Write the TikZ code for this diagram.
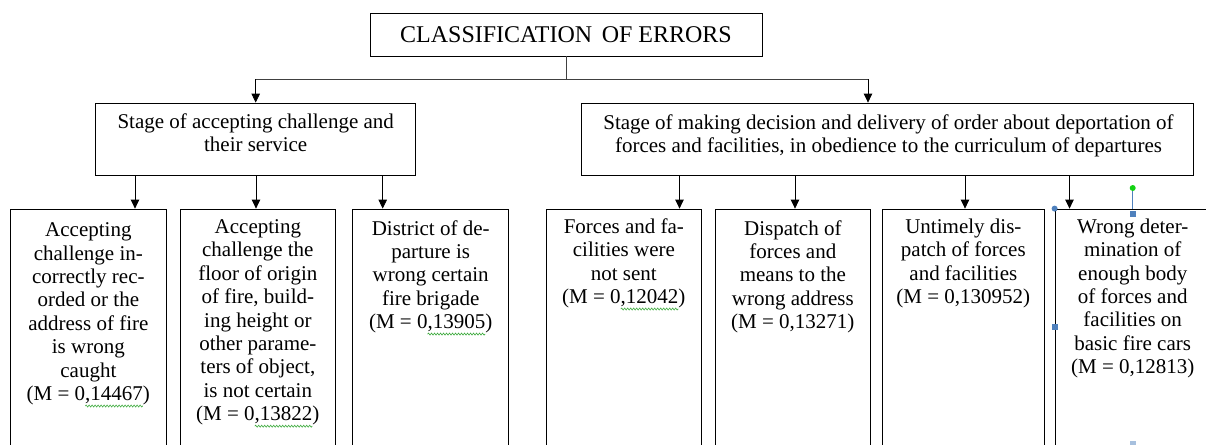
\documentclass[tikz,border=0pt]{standalone}
\usepackage{fontspec}
\setmainfont{Liberation Serif}
\usetikzlibrary{arrows.meta,decorations.pathmorphing}
\definecolor{wavecol}{RGB}{60,170,60}
\definecolor{hblue}{RGB}{79,129,189}
\definecolor{hgreen}{RGB}{20,210,20}
\newlength\wavlen
\newcommand\wav[1]{\settowidth\wavlen{#1}\rlap{\tikz[overlay]\draw[wavecol,line width=0.6pt,decorate,decoration={snake,amplitude=1pt,segment length=3pt}] (0pt,-5.5pt) -- (\wavlen,-5.5pt);}#1}
\newcommand\btext[2]{\parbox[t]{#1pt}{\centering\fontsize{21}{23.4}\selectfont #2}}
\begin{document}
\begin{tikzpicture}[x=1pt,y=-1pt,
  box/.style={draw, line width=0.8pt, rectangle, inner sep=0pt},
  lbl/.style={inner sep=0pt, anchor=base},
  arr/.style={-{Triangle[length=9pt,width=8.5pt]}, line width=0.8pt},
  conn/.style={line width=0.8pt, draw=black!75}]
\clip (0,0) rectangle (1206,444);
\fill[white] (0,0) rectangle (1206,444);

% title
\node[box, minimum width=392pt, minimum height=43pt] (t) at (566,34.5)
  {\fontsize{24}{28}\selectfont CLASSIFICATION\hspace{0.15em} OF ERRORS};

% stage boxes
\node[box, minimum width=320pt, minimum height=72pt] (s1) at (255.7,139) {};
\node[box, minimum width=612.3pt, minimum height=72pt] (s2) at (887.55,139) {};
\node[lbl] (s1t) at (255.7,128) {\btext{316}{Stage of accepting challenge and\\their service}};
\node[lbl] (s2t) at (888.5,129) {\btext{610}{Stage of making decision and delivery of order about deportation of\\forces and facilities, in obedience to the curriculum of departures}};

% bottom boxes
\node[box, minimum width=155.3pt, minimum height=241pt] (b1) at (88.35,329.5) {};
\node[box, minimum width=154.3pt, minimum height=241pt] (b2) at (257.85,329.5) {};
\node[box, minimum width=156pt, minimum height=241pt] (b3) at (430.7,329.5) {};
\node[box, minimum width=155.7pt, minimum height=241pt] (b4) at (623.85,329.5) {};
\node[box, minimum width=155.7pt, minimum height=241pt] (b5) at (792.85,329.5) {};
\node[box, minimum width=161.3pt, minimum height=241pt] (b6) at (963.35,329.5) {};
\node[box, minimum width=155.4pt, minimum height=241pt] (b7) at (1132.7,329.5) {};

\node[lbl] (b1t) at (88.35,236.7) {\btext{150}{Accepting\\challenge in-\\correctly rec-\\orded or the\\address of fire\\is wrong\\caught\\(M = 0\wav{,14467})}};
\node[lbl] (b2t) at (257.85,233.5) {\btext{150}{Accepting\\challenge the\\floor of origin\\of fire, build-\\ing height or\\other parame-\\ters of object,\\is not certain\\(M = 0\wav{,13822})}};
\node[lbl] (b3t) at (430.7,235) {\btext{150}{District of de-\\parture is\\wrong certain\\fire brigade\\(M = 0\wav{,13905})}};
\node[lbl] (b4t) at (623.85,233.3) {\btext{150}{Forces and fa-\\cilities were\\not sent\\(M = 0\wav{,12042})}};
\node[lbl] (b5t) at (792.85,235) {\btext{150}{Dispatch of\\forces and\\means to the\\wrong address\\(M = 0,13271)}};
\node[lbl] (b6t) at (963.35,233.3) {\btext{156}{Untimely dis-\\patch of forces\\and facilities\\(M = 0,130952)}};
\node[lbl] (b7t) at (1132.7,233.3) {\btext{150}{Wrong deter-\\mination of\\enough body\\of forces and\\facilities on\\basic fire cars\\(M = 0,12813)}};

% connector x positions
\coordinate (hy) at (0,79);
\coordinate (xr) at (868,0);
\coordinate (a1) at (135,0);
\coordinate (a2) at (256,0);
\coordinate (a3) at (382.7,0);
\coordinate (a4) at (679.5,0);
\coordinate (a5) at (795,0);
\coordinate (a6) at (965,0);
\coordinate (a7) at (1069.5,0);

% top connectors
\draw[conn] (t.south) -- (t.south |- hy);
\draw[conn] (t.south |- hy) -- (s1.north |- hy);
\draw[conn] (t.south |- hy) -- (xr |- hy);
\draw[arr] (s1.north |- hy) -- (s1.north);
\draw[arr] (xr |- hy) -- (s2.north -| xr);

% stage to bottom
\draw[arr] (s1.south -| a1) -- (b1.north -| a1);
\draw[arr] (s1.south -| a2) -- (b2.north -| a2);
\draw[arr] (s1.south -| a3) -- (b3.north -| a3);
\draw[arr] (s2.south -| a4) -- (b4.north -| a4);
\draw[arr] (s2.south -| a5) -- (b5.north -| a5);
\draw[arr] (s2.south -| a6) -- (b6.north -| a6);
\draw[arr] (s2.south -| a7) -- (b7.north -| a7);

% selection handles of the last box
\draw[hblue, line width=0.8pt] (b7.north) -- ++(0,-21);
\fill[hgreen] (1132.7,188) circle (3pt);
\fill[hblue] (b7.north west) circle (3pt);
\fill[hblue] ([xshift=-2.8pt,yshift=-2.8pt]b7.north) rectangle ++(5.6,5.6);
\fill[hblue] (1052.2,323.9) rectangle ++(5.6,5.6);
\fill[hblue!50] (1129.9,441) rectangle ++(5.6,5.6);
\end{tikzpicture}
\end{document}
